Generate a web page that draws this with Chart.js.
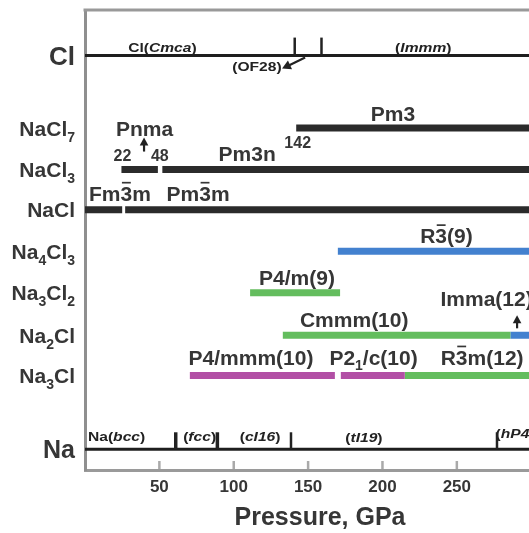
<!DOCTYPE html>
<html>
<head>
<meta charset="utf-8">
<script src="https://cdn.jsdelivr.net/npm/chart.js@4.4.1/dist/chart.umd.min.js"></script>
<style>
html, body { margin: 0; padding: 0; background: #fff; overflow: hidden; }
#wrap { width: 529px; height: 533px; overflow: hidden; }
canvas { display: block; }
</style>
</head>
<body>
<div id="wrap"><canvas id="phaseChart" width="560" height="533"></canvas></div>
<script>
// Pressure range shown (the right edge is cut off in the figure)
const PMAX = 316;

// Rows of the diagram, top to bottom
const rowNames = ['Cl', 'NaCl₇', 'NaCl₃', 'NaCl', 'Na₄Cl₃', 'Na₃Cl₂', 'Na₂Cl', 'Na₃Cl', 'Na'];
const rowLevels = [0, 1.75, 2.75, 3.72, 4.72, 5.72, 6.75, 7.72, 9.5];

// Stable phases of the compounds (GPa)
const phaseRow = ['NaCl₇', 'NaCl₃', 'NaCl₃', 'NaCl', 'NaCl', 'Na₄Cl₃', 'Na₃Cl₂', 'Na₂Cl', 'Na₂Cl', 'Na₃Cl', 'Na₃Cl', 'Na₃Cl'];
const phaseName = ['Pm3', 'Pnma', 'Pm3n', 'Fm3\u0305m', 'Pm3\u0305m', 'R3\u0305(9)', 'P4/m(9)', 'Cmmm(10)', 'Imma(12)', 'P4/mmm(10)', 'P2₁/c(10)', 'R3\u0305m(12)'];
const phaseFrom = [142, 24.5, 52, 0, 27, 170, 111, 133, 286, 70.5, 172, 215];
const phaseTo = [PMAX, 49, PMAX, 25, PMAX, PMAX, 171.5, 286, PMAX, 168, 215, PMAX];
const phaseFamily = ['k', 'k', 'k', 'k', 'k', 'b', 'g', 'g', 'b', 'm', 'm', 'g'];

// Elemental phase transitions (GPa)
const clTransitions = [141, 159];
const clPhases = ['Cl(*Cmca*)', '(*Immm*)', '(OF28)'];
const naTransitions = [61, 89, 138.5, 277];
const naPhases = ['Na(*bcc*)', '(*fcc*)', '(*cI16*)', '(*tI19*)', '(*hP4*)'];

// Pressure axis ticks
const pressureTicks = [50, 100, 150, 200, 250];

const FONT = '"Liberation Sans", Arial, sans-serif';
const INK = '#363636';
const familyColor = { k: '#2b2b2b', b: '#4381cf', g: '#64bd5e', m: '#b24fa5' };

function levelOf(name) {
    return rowLevels[rowNames.indexOf(name)];
}

// Draw text with *italic* runs, subscript digits and combining overbars
function drawRich(ctx, text, x, y, size, align, stretch) {
    stretch = stretch || 1;
    const runs = [];
    const chars = Array.from(text);
    let italic = false;
    for (let i = 0; i < chars.length; i++) {
        const ch = chars[i];
        if (ch === '*') { italic = !italic; continue; }
        if (ch === '\u0305') continue;
        const code = ch.charCodeAt(0);
        const sub = code >= 0x2080 && code <= 0x2089;
        runs.push({
            t: sub ? String.fromCharCode(code - 0x2080 + 48) : ch,
            sub: sub,
            bar: chars[i + 1] === '\u0305',
            italic: italic
        });
    }
    const fontFor = r => (r.italic ? 'italic ' : '') + 'bold ' + Math.round(r.sub ? size * 0.65 : size) + 'px ' + FONT;
    let total = 0;
    runs.forEach(r => {
        ctx.font = fontFor(r);
        r.w = ctx.measureText(r.t).width;
        total += r.w;
    });
    ctx.save();
    ctx.translate(x, y);
    ctx.scale(stretch, 1);
    ctx.textAlign = 'left';
    ctx.textBaseline = 'alphabetic';
    let cx = align === 'center' ? -total / 2 : align === 'right' ? -total : 0;
    runs.forEach(r => {
        ctx.font = fontFor(r);
        ctx.fillText(r.t, cx, r.sub ? size * 0.28 : 0);
        if (r.bar) {
            ctx.fillRect(cx + r.w * 0.12, -size * 0.9, r.w * 0.76, Math.max(1.5, size * 0.08));
        }
        cx += r.w;
    });
    ctx.restore();
}

function drawArrow(ctx, x1, y1, x2, y2, head) {
    const a = Math.atan2(y2 - y1, x2 - x1);
    ctx.beginPath();
    ctx.moveTo(x1, y1);
    ctx.lineTo(x2 - Math.cos(a) * head * 0.8, y2 - Math.sin(a) * head * 0.8);
    ctx.stroke();
    ctx.beginPath();
    ctx.moveTo(x2, y2);
    ctx.lineTo(x2 - head * Math.cos(a - 0.5), y2 - head * Math.sin(a - 0.5));
    ctx.lineTo(x2 - head * Math.cos(a + 0.5), y2 - head * Math.sin(a + 0.5));
    ctx.closePath();
    ctx.fill();
}

// Where each phase label sits: centre pressure and pixel offset above the bar
const labelSpots = [
    [207, -7], [40, -34], [109, -9], [23.5, -9], [76, -9], [243, -8],
    [142.5, -8], [181, -8], [270, -29], [111.6, -11], [194, -11], [267, -11]
];

const phaseDecor = {
    id: 'phaseDecor',
    afterDraw(chart) {
        const { ctx, chartArea, scales: { x, y } } = chart;
        ctx.save();

        // top frame line
        ctx.strokeStyle = '#999';
        ctx.lineWidth = 3;
        ctx.beginPath();
        ctx.moveTo(chartArea.left - 1.5, chartArea.top);
        ctx.lineTo(chartArea.right, chartArea.top);
        ctx.stroke();

        // inward tick marks on the pressure axis
        ctx.strokeStyle = '#aaa';
        ctx.lineWidth = 2.5;
        pressureTicks.forEach(p => {
            const px = x.getPixelForValue(p);
            ctx.beginPath();
            ctx.moveTo(px, chartArea.bottom - 1);
            ctx.lineTo(px, chartArea.bottom - 9);
            ctx.stroke();
        });

        // transition marks on the elemental lines
        ctx.strokeStyle = '#222';
        const clY = y.getPixelForValue(levelOf('Cl'));
        const naY = y.getPixelForValue(levelOf('Na'));
        clTransitions.forEach(p => {
            const px = x.getPixelForValue(p);
            ctx.lineWidth = 2.5;
            ctx.beginPath();
            ctx.moveTo(px, clY);
            ctx.lineTo(px, clY - 18);
            ctx.stroke();
        });
        naTransitions.forEach((p, i) => {
            const px = x.getPixelForValue(p);
            ctx.lineWidth = i < 2 ? 3.5 : 2.5;
            ctx.beginPath();
            ctx.moveTo(px, naY);
            ctx.lineTo(px, naY - 17);
            ctx.stroke();
        });

        // row names
        ctx.fillStyle = INK;
        rowNames.forEach((name, i) => {
            const size = name === 'Cl' ? 26 : name === 'Na' ? 25 : 21;
            const py = y.getPixelForValue(rowLevels[i]);
            drawRich(ctx, name, chartArea.left - 10, py + size * 0.36, size, 'right');
        });

        // phase labels
        phaseName.forEach((name, i) => {
            const spot = labelSpots[i];
            const py = y.getPixelForValue(levelOf(phaseRow[i]));
            drawRich(ctx, name, x.getPixelForValue(spot[0]), py + spot[1], 21, 'center');
        });

        // transition pressures around the Pnma window of NaCl3
        const n7 = y.getPixelForValue(levelOf('NaCl₇'));
        const n3 = y.getPixelForValue(levelOf('NaCl₃'));
        drawRich(ctx, String(phaseFrom[0]), x.getPixelForValue(143), n7 + 20, 16, 'center');
        drawRich(ctx, '22', x.getPixelForValue(25.2), n3 - 9, 16, 'center');
        drawRich(ctx, '48', x.getPixelForValue(50.3), n3 - 9, 16, 'center');

        // arrows
        ctx.strokeStyle = '#222';
        ctx.fillStyle = '#222';
        ctx.lineWidth = 2.2;
        const pnX = x.getPixelForValue(39.7);
        drawArrow(ctx, pnX, n3 - 18, pnX, n3 - 32, 9);
        const n2 = y.getPixelForValue(levelOf('Na₂Cl'));
        const imX = x.getPixelForValue(290.5);
        drawArrow(ctx, imX, n2 - 7, imX, n2 - 20, 9);
        drawArrow(ctx, x.getPixelForValue(148), clY + 2, x.getPixelForValue(132.5), clY + 13, 10);

        // elemental phase names
        ctx.fillStyle = '#222';
        const small = 12, wide = 1.3;
        drawRich(ctx, clPhases[0], x.getPixelForValue(29), clY - 4, small, 'left', wide);
        drawRich(ctx, clPhases[1], x.getPixelForValue(208.5), clY - 4, small, 'left', wide);
        drawRich(ctx, clPhases[2], x.getPixelForValue(99), clY + 15, small, 'left', wide);
        const naSpots = [[2, -8], [66, -8], [104, -8], [175, -7], [276, -11]];
        naPhases.forEach((t, i) => {
            drawRich(ctx, t, x.getPixelForValue(naSpots[i][0]), naY + naSpots[i][1], small, 'left', wide);
        });

        ctx.restore();
    }
};

function segment(from, to, level, color, width) {
    return {
        data: [{ x: from, y: level }, { x: to, y: level }],
        borderColor: color,
        borderWidth: width,
        borderCapStyle: 'butt',
        pointRadius: 0,
        fill: false,
        tension: 0
    };
}

const datasets = [
    segment(0, PMAX, levelOf('Cl'), '#1e1e1e', 3),
    segment(0, PMAX, levelOf('Na'), '#1e1e1e', 3)
];
phaseName.forEach((name, i) => {
    datasets.push(segment(phaseFrom[i], phaseTo[i], levelOf(phaseRow[i]), familyColor[phaseFamily[i]], 7));
});

new Chart(document.getElementById('phaseChart'), {
    type: 'line',
    data: { datasets: datasets },
    options: {
        responsive: false,
        animation: false,
        layout: { padding: { top: 10, right: 5, left: 0, bottom: 0 } },
        plugins: {
            legend: { display: false },
            tooltip: { enabled: false }
        },
        scales: {
            x: {
                type: 'linear',
                min: 0,
                max: PMAX,
                afterFit: s => { s.height = 63; },
                afterBuildTicks: s => { s.ticks = pressureTicks.map(v => ({ value: v })); },
                grid: { drawOnChartArea: false, drawTicks: false, color: 'transparent' },
                border: { color: '#9a9a9a', width: 3 },
                ticks: {
                    color: INK,
                    padding: 7,
                    font: { family: FONT, size: 17, weight: 'bold' }
                },
                title: {
                    display: true,
                    text: 'Pressure, GPa',
                    color: INK,
                    padding: { top: 0, bottom: 0 },
                    font: { family: FONT, size: 25, weight: 'bold' }
                }
            },
            y: {
                type: 'linear',
                reverse: true,
                min: -1.1,
                max: 10,
                afterFit: s => { s.width = 85; },
                grid: { drawOnChartArea: false, drawTicks: false, color: 'transparent' },
                border: { color: '#8f8f8f', width: 3 },
                ticks: { display: false }
            }
        }
    },
    plugins: [phaseDecor]
});
</script>
</body>
</html>
